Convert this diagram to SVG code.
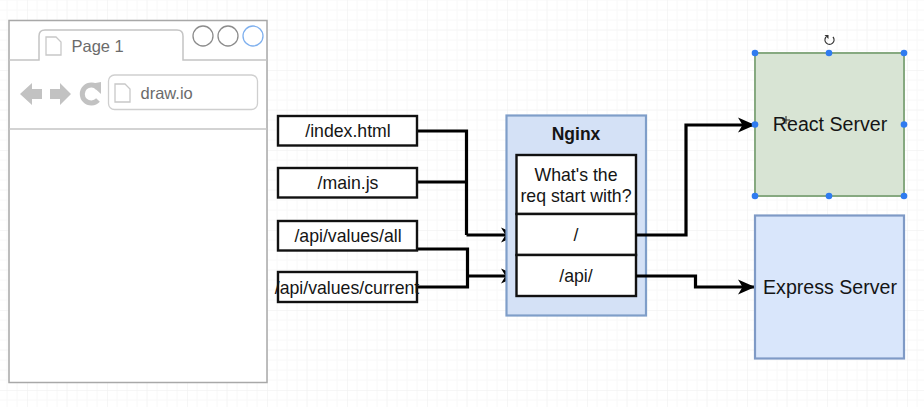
<svg xmlns="http://www.w3.org/2000/svg" width="924" height="407" viewBox="0 0 924 407">
<style>
text{font-family:"Liberation Sans",Arial,sans-serif;text-anchor:middle;fill:#151515}
.lab{font-size:17.7px}
.big{font-size:19.6px}
.g{fill:#6b6b6b;font-size:16.5px;text-anchor:start}
.box{fill:#fff;stroke:#111;stroke-width:2.4}
.chrome{fill:none;stroke:#c4c4c4;stroke-width:1.5}
.ic{fill:#c2c2c2}
.page{fill:#fff;stroke:#c8c8c8;stroke-width:1.3}
.conn{fill:none;stroke:#000;stroke-width:3.2}
.nginx{fill:#d4e1f6;stroke:#7f9ec9;stroke-width:2.2}
.express{fill:#d9e6fb;stroke:#7f9ac6;stroke-width:2.2}
.h{fill:#2f7bf0}
</style>
<defs>
<pattern id="grid" width="80" height="80" patternUnits="userSpaceOnUse" x="27" y="70">
<path d="M10 0V80M20 0V80M30 0V80M50 0V80M60 0V80M70 0V80M0 10H80M0 20H80M0 30H80M0 50H80M0 60H80M0 70H80" fill="none" stroke="#f8f8f8" stroke-width="1"/>
<path d="M40 0V80M0 40H80" fill="none" stroke="#f4f4f4" stroke-width="1"/>
<path d="M0 0H80M0 0V80" fill="none" stroke="#eeeeee" stroke-width="1"/>
</pattern>
<marker id="arr" markerUnits="userSpaceOnUse" markerWidth="18" markerHeight="18" refX="17" refY="9" orient="auto">
<path d="M0 1.500L17 9L0 16.500L4.500 9Z" fill="#000"/>
</marker>
</defs>
<rect width="924" height="407" fill="#fff"/>
<rect width="924" height="407" fill="url(#grid)"/>
<g id="browser">
<rect x="9" y="20.500" width="258" height="362" fill="#fff" stroke="#a8a8a8" stroke-width="1.500"/>
<path class="chrome" d="M9 60H39V36Q39 30 45 30H177Q183 30 183 36V60H267"/>
<path class="chrome" d="M9 129H267"/>
<path class="page" d="M46 37H56L61 42V55H46Z"/>
<text class="g" x="71.500" y="52">Page 1</text>
<circle cx="203" cy="36" r="10" fill="#fff" stroke="#8c8c8c" stroke-width="1.300"/>
<circle cx="228" cy="36" r="10" fill="#fff" stroke="#8c8c8c" stroke-width="1.300"/>
<circle cx="253" cy="36" r="10" fill="#fff" stroke="#7fb0ee" stroke-width="1.300"/>
<path class="ic" d="M20 94L32 83V89H42V99H32V105Z"/>
<path class="ic" d="M71 94L60 83V89H50V99H60V105Z"/>
<path d="M98 88A9 9 0 1 0 98 100" fill="none" stroke="#c2c2c2" stroke-width="5"/>
<path class="ic" d="M90 84L101 82V94Z"/>
<rect x="108.500" y="75" width="149" height="34.500" rx="6" fill="#fff" stroke="#cfcfcf" stroke-width="1.300"/>
<path class="page" d="M115 84H125L130 89V102H115Z"/>
<text class="g" x="140.500" y="99">draw.io</text>
</g>
<g id="connectors">
<path class="conn" d="M417 131H466.500V235"/>
<path class="conn" d="M417 182H466.500"/>
<path class="conn" d="M466.500 235H518" marker-end="url(#arr)"/>
<path class="conn" d="M417 249H467.500V287H417"/>
<path class="conn" d="M467.500 276H518" marker-end="url(#arr)"/>
</g>
<g id="nginx">
<rect class="nginx" x="506.500" y="115.500" width="139.500" height="200"/>
<text x="576" y="140" style="font-size:17.500px;font-weight:bold">Nginx</text>
</g>
<g id="index"><rect class="box" x="278" y="116" width="139" height="29.500"/><text class="lab" x="348" y="137">/index.html</text></g>
<g id="main"><rect class="box" x="278" y="168" width="139" height="29.500"/><text class="lab" x="348" y="189">/main.js</text></g>
<g id="all"><rect class="box" x="278" y="221" width="139" height="29.500"/><text class="lab" x="348" y="242">/api/values/all</text></g>
<g id="current"><rect class="box" x="278" y="272" width="139" height="30"/><text class="lab" x="347" y="294">/api/values/current</text></g>
<g id="question"><rect class="box" x="516.500" y="155" width="119.500" height="59"/><text class="lab" x="576" y="181">What's the</text><text class="lab" x="576" y="201.500">req start with?</text></g>
<g id="root"><rect class="box" x="516.500" y="214" width="119.500" height="41"/><text class="lab" x="576" y="241">/</text></g>
<g id="api"><rect class="box" x="516.500" y="255" width="119.500" height="41"/><text class="lab" x="576" y="282">/api/</text></g>
<g id="connectors-out">
<path class="conn" d="M636 235H686V125H755" marker-end="url(#arr)"/>
<path class="conn" d="M636 276H695.500V287H755" marker-end="url(#arr)"/>
</g>
<g id="react">
<rect x="755" y="53" width="149" height="143" fill="#d8e4d4" stroke="#86a980" stroke-width="2"/>
<text class="big" x="830" y="131">React Server</text>
<path d="M786 116V124M782 120H790" stroke="#222" stroke-width="1" fill="none"/>
<g class="h"><circle cx="755" cy="53" r="3.300"/><circle cx="829" cy="53" r="3.300"/><circle cx="904" cy="53" r="3.300"/><circle cx="755" cy="124.500" r="3.300"/><circle cx="904" cy="124.500" r="3.300"/><circle cx="755" cy="196" r="3.300"/><circle cx="829" cy="196" r="3.300"/><circle cx="904" cy="196" r="3.300"/></g>
<path d="M833 37A4.500 4.500 0 1 1 826 37" fill="none" stroke="#333" stroke-width="1.300"/><path d="M824.500 35H828.500V39Z" fill="#333"/>
</g>
<g id="express">
<rect class="express" x="755" y="215.500" width="149" height="143"/>
<text class="big" x="830" y="293.500">Express Server</text>
</g>
</svg>
